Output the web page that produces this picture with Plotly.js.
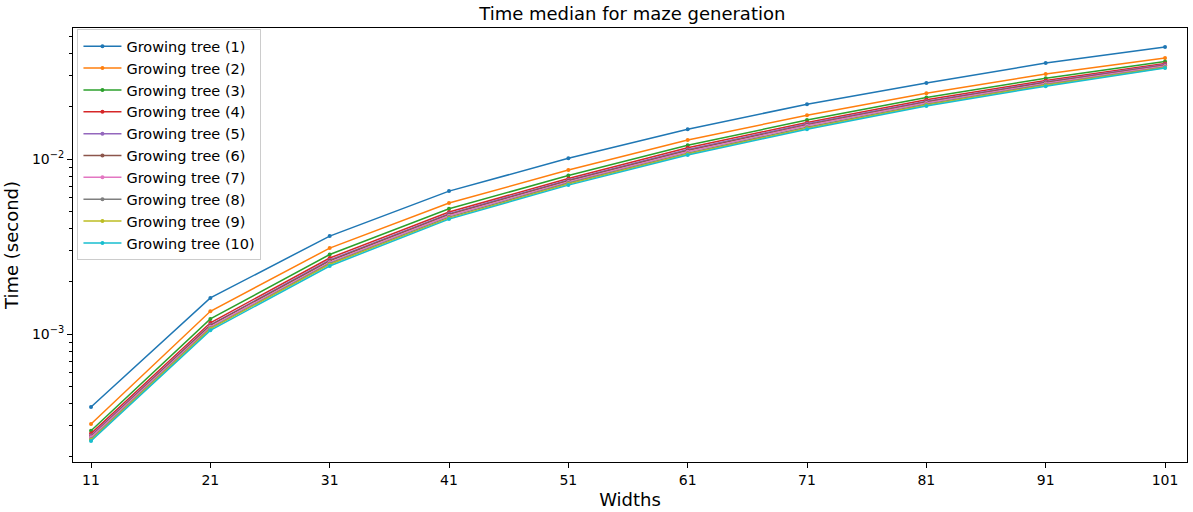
<html><head><script src="https://cdn.plot.ly/plotly-3.0.1.min.js"></script></head><body style="margin:0">
<div id="c" style="width:1193px;height:512px"></div>
<script>
const widths=[11,21,31,41,51,61,71,81,91,101];
const s1=[3.83e-4,1.61e-3,3.63e-3,6.56e-3,1.01e-2,1.48e-2,2.06e-2,2.72e-2,3.54e-2,4.37e-2];
const s2=[3.06e-4,1.35e-3,3.10e-3,5.61e-3,8.65e-3,1.285e-2,1.78e-2,2.38e-2,3.06e-2,3.78e-2];
const s3=[2.80e-4,1.22e-3,2.85e-3,5.20e-3,8.05e-3,1.20e-2,1.67e-2,2.25e-2,2.90e-2,3.61e-2];
const s4=[2.70e-4,1.16e-3,2.72e-3,4.98e-3,7.75e-3,1.16e-2,1.62e-2,2.18e-2,2.81e-2,3.52e-2];
const s5=[2.63e-4,1.13e-3,2.65e-3,4.88e-3,7.60e-3,1.135e-2,1.59e-2,2.14e-2,2.77e-2,3.47e-2];
const s6=[2.60e-4,1.12e-3,2.62e-3,4.82e-3,7.52e-3,1.12e-2,1.57e-2,2.12e-2,2.74e-2,3.44e-2];
const s7=[2.57e-4,1.10e-3,2.57e-3,4.74e-3,7.40e-3,1.10e-2,1.55e-2,2.09e-2,2.70e-2,3.40e-2];
const s8=[2.51e-4,1.08e-3,2.53e-3,4.66e-3,7.30e-3,1.08e-2,1.52e-2,2.06e-2,2.67e-2,3.36e-2];
const s9=[2.48e-4,1.07e-3,2.50e-3,4.60e-3,7.20e-3,1.07e-2,1.50e-2,2.04e-2,2.64e-2,3.34e-2];
const s10=[2.45e-4,1.05e-3,2.45e-3,4.54e-3,7.10e-3,1.055e-2,1.48e-2,2.01e-2,2.61e-2,3.31e-2];
const series=[s1,s2,s3,s4,s5,s6,s7,s8,s9,s10];
const names=series.map((_,i)=>'Growing tree ('+(i+1)+')');
const colors=['#1f77b4','#ff7f0e','#2ca02c','#d62728','#9467bd','#8c564b','#e377c2','#7f7f7f','#bcbd22','#17becf'];
const data=series.map((s,i)=>({x:widths,y:s,name:names[i],mode:'lines+markers',type:'scatter',line:{color:colors[i],width:1.5},marker:{color:colors[i],size:4}}));
const ax={showline:true,mirror:true,linecolor:'black',linewidth:1,ticks:'outside',ticklen:5,tickcolor:'black',showgrid:false,zeroline:false,tickfont:{size:14,color:'black'}};
const minor=[];for(const d of [1e-4,1e-3,1e-2])for(let k=2;k<10;k++)minor.push(k*d);
Plotly.newPlot('c',data,{
 width:1193,height:512,margin:{l:73,r:6,t:28,b:50},
 paper_bgcolor:'white',plot_bgcolor:'white',
 font:{family:'DejaVu Sans',color:'black'},
 title:{text:'Time median for maze generation',font:{size:18},x:0.53,y:0.985,yanchor:'top'},
 xaxis:Object.assign({},ax,{range:[9.49,102.84],tickvals:widths,title:{text:'Widths',font:{size:18},standoff:6}}),
 yaxis:Object.assign({},ax,{type:'log',range:[-3.731,-1.251],tickvals:[1e-3,1e-2],ticktext:['10<sup>−3</sup>','10<sup>−2</sup>'],title:{text:'Time (second)',font:{size:18},standoff:8},minor:{tickvals:minor,ticks:'outside',ticklen:3,tickcolor:'black'}}),
 legend:{x:0.004,y:0.997,xanchor:'left',yanchor:'top',bordercolor:'#ccc',borderwidth:1,bgcolor:'rgba(255,255,255,0.8)',font:{size:14.5},itemwidth:38,tracegroupgap:0}
},{staticPlot:true});
</script></body></html>
